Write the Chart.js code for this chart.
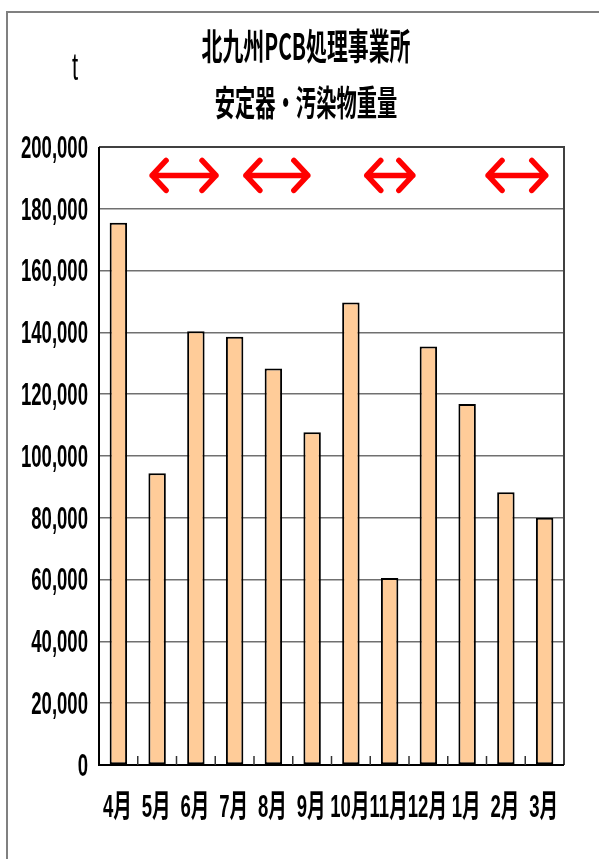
<!DOCTYPE html>
<html>
<head>
<meta charset="utf-8">
<script src="https://cdn.jsdelivr.net/npm/chart.js@4"></script>
<style>
  body { margin: 0; background: #fff; }
</style>
</head>
<body>
<canvas id="weight" width="599" height="859"></canvas>
<script>
// monthly weight of ballasts / contaminated items (t)
const months = ['4月', '5月', '6月', '7月', '8月', '9月', '10月', '11月', '12月', '1月', '2月', '3月'];
const tonnage = [175500, 94400, 140400, 138600, 128300, 107700, 149700, 60500, 135400, 116800, 88300, 80000];

// periods marked with red arrows, in category index units
const periodStart = [0.87, 3.29, 6.41, 9.54];
const periodEnd = [2.52, 4.89, 7.6, 11.03];
const periodLevel = 190800;

const titleLines = ['北九州PCB処理事業所', '安定器・汚染物重量'];
const unitLabel = 't';

const latin = '"Liberation Sans", Arial, "Noto Sans CJK JP", sans-serif';
const cjk = '"Noto Sans CJK JP", "Liberation Sans", sans-serif';

// narrow text like the old condensed gothic
function squeezed(ctx, text, x, y, font, align) {
    ctx.save();
    ctx.translate(x, y);
    ctx.scale(0.58, 1);
    ctx.font = font;
    ctx.fillStyle = '#000';
    ctx.textAlign = align;
    ctx.textBaseline = 'middle';
    ctx.fillText(text, 0, 0);
    ctx.restore();
}

const decorations = {
    id: 'decorations',
    beforeDraw(chart) {
        const ctx = chart.ctx;
        ctx.save();
        ctx.strokeStyle = '#808080';
        ctx.lineWidth = 2;
        ctx.strokeRect(7, 12, 700, 900);
        ctx.restore();
    },
    afterDatasetsDraw(chart) {
        const ctx = chart.ctx;
        const a = chart.chartArea;
        const x = chart.scales.x;
        const y = chart.scales.y;
        const step = x.getPixelForValue(1) - x.getPixelForValue(0);

        ctx.save();
        // plot frame
        ctx.lineWidth = 2;
        ctx.strokeStyle = '#404040';
        ctx.beginPath();
        ctx.moveTo(a.left, a.top);
        ctx.lineTo(a.right, a.top);
        ctx.lineTo(a.right, a.bottom);
        ctx.stroke();
        ctx.strokeStyle = '#000';
        ctx.beginPath();
        ctx.moveTo(a.left, a.top);
        ctx.lineTo(a.left, a.bottom);
        ctx.lineTo(a.right, a.bottom);
        ctx.stroke();

        // category tick marks
        ctx.lineWidth = 1.5;
        ctx.strokeStyle = '#333';
        for (let i = 0; i < months.length - 1; i++) {
            const px = x.getPixelForValue(i) + step / 2;
            ctx.beginPath();
            ctx.moveTo(px, a.bottom);
            ctx.lineTo(px, a.bottom - 9);
            ctx.stroke();
        }

        // double arrows
        ctx.strokeStyle = '#ff0000';
        ctx.lineWidth = 5.5;
        ctx.lineCap = 'round';
        ctx.lineJoin = 'round';
        const py = y.getPixelForValue(periodLevel);
        periodStart.forEach((s, i) => {
            const x0 = x.getPixelForValue(0) + s * step;
            const x1 = x.getPixelForValue(0) + periodEnd[i] * step;
            ctx.beginPath();
            ctx.moveTo(x0, py);
            ctx.lineTo(x1, py);
            ctx.moveTo(x0 + 14, py - 15);
            ctx.lineTo(x0, py);
            ctx.lineTo(x0 + 14, py + 15);
            ctx.moveTo(x1 - 14, py - 15);
            ctx.lineTo(x1, py);
            ctx.lineTo(x1 - 14, py + 15);
            ctx.stroke();
        });
        ctx.restore();
    },
    afterDraw(chart) {
        const ctx = chart.ctx;
        const x = chart.scales.x;
        const y = chart.scales.y;

        y.ticks.forEach(t => {
            squeezed(ctx, t.value.toLocaleString('en-US'), 88, y.getPixelForValue(t.value) + 2, 'bold 32px ' + latin, 'right');
        });
        months.forEach((m, i) => {
            squeezed(ctx, m, x.getPixelForValue(i) - 1, 808, 'bold 32px ' + latin, 'center');
        });

        squeezed(ctx, titleLines[0], 306, 46, 'bold 36px ' + cjk, 'center');
        squeezed(ctx, titleLines[1], 306, 103, 'bold 35px ' + cjk, 'center');
        squeezed(ctx, unitLabel, 75, 70, '38px ' + latin, 'center');
    }
};

new Chart(document.getElementById('weight'), {
    type: 'bar',
    data: {
        labels: months,
        datasets: [
            {
                label: '重量',
                data: tonnage,
                backgroundColor: '#ffcc99',
                borderColor: '#000',
                borderWidth: 2,
                borderSkipped: false,
                categoryPercentage: 1,
                barPercentage: 0.45,
            },
        ],
    },
    options: {
        responsive: false,
        animation: false,
        layout: {
            padding: { left: 99, top: 147, right: 35, bottom: 86 },
        },
        plugins: {
            legend: { display: false },
            tooltip: { enabled: false },
        },
        scales: {
            x: {
                grid: { display: false },
                ticks: { display: false },
                border: { display: false },
            },
            y: {
                min: 0,
                max: 200000,
                ticks: { display: false, stepSize: 20000 },
                grid: { color: '#707070', lineWidth: 1.5, drawTicks: false },
                border: { display: false },
            },
        },
    },
    plugins: [decorations],
});
</script>
</body>
</html>
